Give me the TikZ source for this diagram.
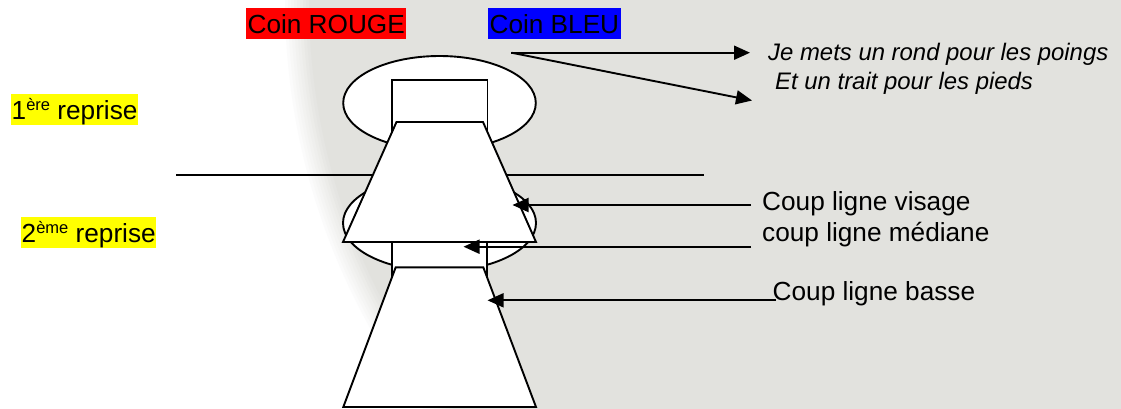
\documentclass[tikz,border=0pt]{standalone}
\usepackage{fontspec}
\setmainfont{Liberation Sans}
\usetikzlibrary{arrows.meta}
\definecolor{bggray}{RGB}{226,226,222}
\definecolor{hlred}{RGB}{255,0,0}
\definecolor{hlblue}{RGB}{0,0,255}
\definecolor{hlyellow}{RGB}{255,255,0}
\tikzset{
  shapeline/.style={draw=black, line width=1.9pt, fill=white, line join=miter},
  arrowline/.style={draw=black, line width=1.9pt, -{Triangle[length=16pt,width=14pt]}},
  plainline/.style={draw=black, line width=1.9pt},
  mainfont/.style={font=\fontsize{26.2}{30}\selectfont},
  italfont/.style={font=\fontsize{23.9}{28}\selectfont\itshape},
  label/.style={mainfont, inner sep=0pt, anchor=base west},
  ilabel/.style={italfont, inner sep=0pt, anchor=base west},
  hlbox/.style={mainfont, inner ysep=0pt, inner xsep=1.4pt, anchor=base west}
}
\newcommand{\supx}[1]{{\fontsize{16.5}{17}\selectfont\raisebox{8.6pt}{#1}}}
\begin{document}
\begin{tikzpicture}[x=1pt, y=-1pt]
\useasboundingbox (0,0) rectangle (1121,408);
\clip (0,0) rectangle (1121,408);
% background
\fill[white] (0,0) rectangle (1121,408);
\foreach \k in {8,7,...,1} {
  \pgfmathsetmacro{\pc}{100-\k*11}
  \fill[bggray!\pc!white] (959,0) circle[radius=650+3*\k];
}
\fill[bggray] (959,0) circle[radius=650];
% horizontal separator line
\coordinate (hl) at (176,175);
\coordinate (hr) at (703.6,175);
\draw[plainline] (hl) -- (hr);
% upper figure
\draw[shapeline] (439.5,103) ellipse [x radius=96.3, y radius=47];
\draw[shapeline] (391.8,80) rectangle (487.5,145);
\draw[shapeline] (439.5,223) ellipse [x radius=96.5, y radius=48];
\draw[shapeline] (396.5,122) -- (483,122) -- (536,242) -- (343,242) -- cycle;
% lower figure
\draw[shapeline] (391.7,242) rectangle (486.7,290);
\draw[shapeline] (395.7,267.3) -- (483.3,267.3) -- (536,407) -- (343.3,407) -- cycle;
% corner labels
\node[hlbox, fill=hlred, text height=25pt, text depth=6pt] (rouge) at (246,33) {Coin ROUGE};
\node[hlbox, fill=hlblue, text height=25pt, text depth=6pt] (bleu) at (488,33) {Coin BLEU};
% round labels
\node[hlbox, fill=hlyellow, inner xsep=0.5pt, text height=25.3pt, text depth=5.7pt] (r1) at (11,119.3) {1\supx{ère} reprise};
\node[hlbox, fill=hlyellow, inner xsep=0.5pt, text height=25.6pt, text depth=5.4pt] (r2) at (21,242.3) {2\supx{ème} reprise};
% legend
\node[ilabel] (poings) at (768,60.7) {Je mets un rond pour les poings};
\node[ilabel] (pieds) at (775,89) {Et un trait pour les pieds};
\coordinate (src) at (511.4,52.7);
\coordinate (t1) at (750,52.7);
\coordinate (t2) at (752,100.5);
\draw[arrowline] (src) -- (t1);
\draw[arrowline] (src) -- (t2);
% hit labels
\node[label] (visage) at (762,210.7) {Coup ligne visage};
\node[label] (mediane) at (762,241) {coup ligne médiane};
\node[label] (basse) at (772.5,300.7) {Coup ligne basse};
\coordinate (vs) at (751,205);
\coordinate (vt) at (512.5,205);
\coordinate (ms) at (751,246.7);
\coordinate (mt) at (463.5,246.7);
\coordinate (bs) at (776,300.3);
\coordinate (bt) at (487.5,300.3);
\draw[arrowline] (vs) -- (vt);
\draw[arrowline] (ms) -- (mt);
\draw[arrowline] (bs) -- (bt);
\end{tikzpicture}
\end{document}
